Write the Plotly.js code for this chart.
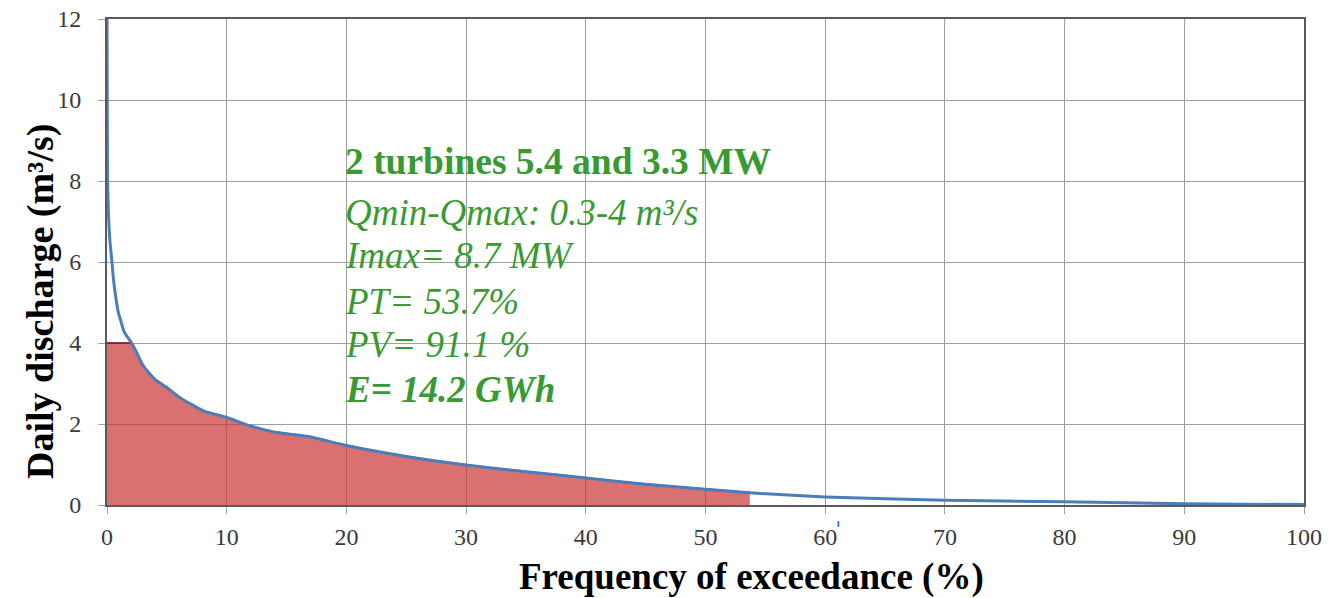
<!DOCTYPE html>
<html>
<head>
<meta charset="utf-8">
<script src="https://cdn.plot.ly/plotly-3.0.1.min.js"></script>
<style>html,body{margin:0;padding:0;background:#fff;}#chart{width:1343px;height:598px;}</style>
</head>
<body>
<div id="chart"></div>
<script>
// Flow duration curve (frequency of exceedance %, daily discharge m3/s)
const exceedance = [0, 0.02, 0.05, 0.12, 0.25, 0.4, 0.55, 0.75, 0.95, 1.2, 1.4, 1.7, 2.06, 2.5, 3, 4, 5, 6, 8, 10, 12, 14, 17, 20, 25, 30, 35, 40, 45, 50, 53.7, 60, 70, 80, 90, 100];
const discharge  = [12, 10, 8, 7.2, 6.5, 6.05, 5.55, 5.1, 4.75, 4.5, 4.3, 4.15, 4.0, 3.75, 3.45, 3.1, 2.9, 2.67, 2.33, 2.16, 1.95, 1.8, 1.68, 1.47, 1.2, 0.99, 0.82, 0.67, 0.51, 0.39, 0.3, 0.2, 0.12, 0.08, 0.03, 0.01];
const qMax = 4;        // turbine max discharge (m3/s)
const ptLimit = 53.7;  // PT (%)
const infoLines = [
  "<b>2 turbines 5.4 and 3.3 MW</b>",
  "<i>Qmin-Qmax: 0.3-4 m³/s</i>",
  "<i>Imax= 8.7 MW</i>",
  "<i>PT= 53.7%</i>",
  "<i>PV= 91.1 %</i>",
  "<b><i>E= 14.2 GWh</i></b>"
];
const xTitle = "<b>Frequency of exceedance (%)</b>";
const yTitle = "<b>Daily discharge (m³/s)</b>";
const xTicks = [0,10,20,30,40,50,60,70,80,90,100];
const yTicks = [0,2,4,6,8,10,12];

const fillX = [], fillY = [];
for (let i = 0; i < exceedance.length; i++) {
  if (exceedance[i] <= ptLimit) { fillX.push(exceedance[i]); fillY.push(Math.min(discharge[i], qMax)); }
}

const serif = "'Liberation Serif', 'Times New Roman', serif";
const green = "#3a9a32";

const traces = [
  {x: fillX, y: fillY, type: 'scatter', mode: 'lines', fill: 'tozeroy',
   fillcolor: 'rgba(200,45,45,0.68)', line: {color: 'rgba(125,30,55,0.9)', width: 2, shape: 'spline', smoothing: 0.5}, hoverinfo: 'skip'},
  {x: exceedance, y: discharge, type: 'scatter', mode: 'lines',
   line: {color: '#4a7ebb', width: 3, shape: 'spline', smoothing: 0.5}}
];

const centersPx = [161, 212, 256, 301, 344, 389];
const sizes = [37.5, 37, 37, 37, 37, 37];
const annotations = infoLines.map((t, i) => ({
  text: t, xref: 'x', yref: 'paper', x: 19.7, y: (505 - centersPx[i]) / 486,
  xanchor: 'left', yanchor: 'middle', showarrow: false,
  font: {family: serif, size: sizes[i], color: green}
}));
annotations.push({
  text: xTitle, xref: 'paper', yref: 'paper', x: (751 - 107) / 1197, y: (505 - 577) / 486,
  xanchor: 'center', yanchor: 'middle', showarrow: false,
  font: {family: serif, size: 37, color: '#000'}
});
annotations.push({
  text: yTitle, xref: 'paper', yref: 'paper', x: (40 - 107) / 1197, y: (505 - 302) / 486,
  xanchor: 'center', yanchor: 'middle', showarrow: false, textangle: -90,
  font: {family: serif, size: 38, color: '#000'}
});

const axisCommon = {
  showgrid: true, gridcolor: '#9e9e9e', gridwidth: 1,
  showline: true, linecolor: '#5a5a5a', linewidth: 2, mirror: true,
  ticks: 'outside', ticklen: 7, tickcolor: '#a0a0a0',
  tickfont: {family: serif, size: 24, color: '#3a3a3a'},
  zeroline: false
};

const layout = {
  width: 1343, height: 598,
  margin: {l: 107, r: 39, t: 19, b: 93},
  paper_bgcolor: '#fff', plot_bgcolor: '#fff',
  showlegend: false,
  xaxis: Object.assign({}, axisCommon, {range: [0, 100], tickvals: xTicks, ticktext: xTicks.map(String), ticklabelstandoff: 2}),
  yaxis: Object.assign({}, axisCommon, {range: [0, 12], tickvals: yTicks, ticktext: yTicks.map(String), ticklabelstandoff: 12}),
  annotations: annotations,
  shapes: [
    {type: 'line', xref: 'x', yref: 'paper', x0: 61.1, x1: 61.1, y0: -0.033, y1: -0.045,
     line: {color: '#4a7ebb', width: 2}}
  ]
};

Plotly.newPlot('chart', traces, layout, {displayModeBar: false, staticPlot: true});
</script>
</body>
</html>
